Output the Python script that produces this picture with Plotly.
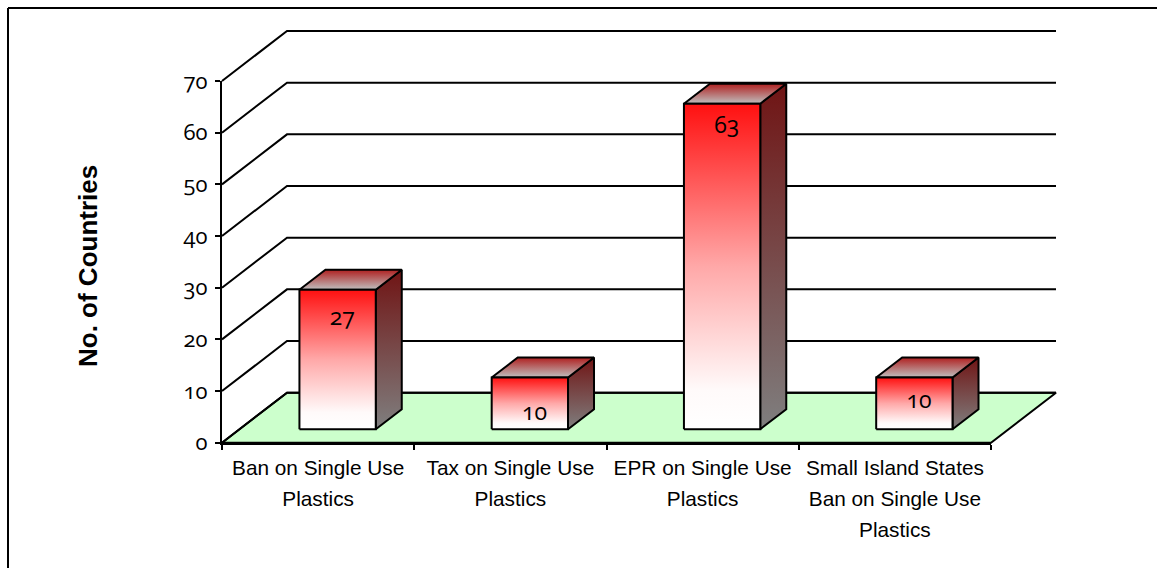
import plotly.graph_objects as go

# Survey counts per policy type
categories = [
    ["Ban on Single Use", "Plastics"],
    ["Tax on Single Use", "Plastics"],
    ["EPR on Single Use", "Plastics"],
    ["Small Island States", "Ban on Single Use", "Plastics"],
]
values = [27, 10, 63, 10]
value_ticks = [0, 10, 20, 30, 40, 50, 60, 70]

# Value labels sit this many axis units below the bar's top edge
label_drop = [5.7, 7.06, 4.5, 4.74]

WIDTH, HEIGHT = 1157, 568

# Pixel frame of the front plane of the chart
X0_PX, X1_PX = 222.0, 991.0
Y0_PX, Y70_PX = 442.7, 81.0
CAT_PX = (X1_PX - X0_PX) / len(values)
UNIT_PX = (Y0_PX - Y70_PX) / 70

# Oblique projection of the box: full depth expressed in axis units
DEPTH_X = 65.0 / CAT_PX
DEPTH_Y = 50.0 / UNIT_PX
BAR_WIDTH = 0.397
BAR_D0, BAR_D1 = 0.27, 0.67
BAR_SHIFT = 0.01
LABEL_SHIFT = 0.024

LINE = dict(color="#000000", width=2)


def project(cat, val, depth):
    return cat + depth * DEPTH_X, val + depth * DEPTH_Y


def path(*pts):
    xs, ys = zip(*[project(*p) for p in pts])
    return list(xs), list(ys)


fig = go.Figure()


def add_line(pts, width=2):
    xs, ys = path(*pts)
    fig.add_trace(go.Scatter(x=xs, y=ys, mode="lines", hoverinfo="skip",
                             showlegend=False,
                             line=dict(color="#000000", width=width)))


def add_face(pts, scale):
    xs, ys = path(*(pts + [pts[0]]))
    fig.add_trace(go.Scatter(
        x=xs, y=ys, mode="lines", fill="toself", hoverinfo="skip",
        showlegend=False, line=LINE,
        fillgradient=dict(type="vertical", start=min(ys), stop=max(ys),
                          colorscale=scale),
    ))


FRONT_SCALE = [[0, "#FFFFFF"], [0.12, "#FFFAFA"], [0.5, "#FFA8A8"], [1, "#FF1010"]]
SIDE_SCALE = [[0, "#7F7F7F"], [1, "#701414"]]
TOP_SCALE = [[0, "#BFBFBF"], [1, "#B02020"]]

n = len(values)

# Floor of the box
fx, fy = path((0, 0, 0), (n, 0, 0), (n, 0, 1), (0, 0, 1), (0, 0, 0))
fig.add_trace(go.Scatter(x=fx, y=fy, mode="lines", fill="toself",
                         fillcolor="#CCFFCC", line=LINE, hoverinfo="skip",
                         showlegend=False))

# Wall gridlines: diagonal on the side wall, horizontal on the back wall
for v in value_ticks:
    add_line([(0, v, 0), (0, v, 1), (n, v, 1)])

# Bars: side, top, then front face so the outlines overlap correctly
for i, v in enumerate(values):
    l = i + 0.5 - BAR_WIDTH / 2 + BAR_SHIFT
    r = l + BAR_WIDTH
    add_face([(r, 0, BAR_D0), (r, 0, BAR_D1), (r, v, BAR_D1), (r, v, BAR_D0)], SIDE_SCALE)
    add_face([(l, v, BAR_D0), (r, v, BAR_D0), (r, v, BAR_D1), (l, v, BAR_D1)], TOP_SCALE)
    add_face([(l, 0, BAR_D0), (r, 0, BAR_D0), (r, v, BAR_D0), (l, v, BAR_D0)], FRONT_SCALE)

# Value labels
lx, ly = [], []
for i, v in enumerate(values):
    px, py = project(i + 0.5 + BAR_SHIFT + LABEL_SHIFT, v - label_drop[i], BAR_D0)
    lx.append(px)
    ly.append(py)
fig.add_trace(go.Scatter(
    x=lx, y=ly, mode="text", text=[str(v) for v in values],
    textposition="middle center", hoverinfo="skip", showlegend=False,
    textfont=dict(family="Open Sans", size=23, color="#000000"),
))

# Front axes carry the ticks and labels
tick_labels = [
    "<br>".join(f'<span style="font-size:20.8px">{s}</span>' for s in lines)
    for lines in categories
]
fig.add_trace(go.Scatter(x=tick_labels, y=values, xaxis="x2", yaxis="y2",
                         mode="none", hoverinfo="skip", showlegend=False))

fig.update_layout(
    width=WIDTH, height=HEIGHT, autosize=False,
    margin=dict(l=0, r=0, t=0, b=0, autoexpand=False),
    paper_bgcolor="#FFFFFF", plot_bgcolor="rgba(0,0,0,0)",
    hovermode=False, showlegend=False,
    xaxis=dict(domain=[0, 1], visible=False, fixedrange=True,
               range=[-X0_PX / CAT_PX, (WIDTH - X0_PX) / CAT_PX]),
    yaxis=dict(domain=[0, 1], visible=False, fixedrange=True,
               range=[(Y0_PX - HEIGHT) / UNIT_PX, Y0_PX / UNIT_PX]),
    xaxis2=dict(
        domain=[X0_PX / WIDTH, X1_PX / WIDTH], anchor="y2", type="category",
        range=[-0.5, n - 0.5], categoryorder="array", categoryarray=tick_labels,
        tickson="boundaries", ticks="outside", ticklen=5, tickwidth=2,
        tickcolor="#000000", showline=True, linecolor="#000000", linewidth=2,
        showgrid=False, zeroline=False, fixedrange=True, tickangle=0,
        ticklabelstandoff=1,
        tickfont=dict(family="Liberation Sans", size=24, color="#000000"),
    ),
    yaxis2=dict(
        domain=[1 - Y0_PX / HEIGHT, 1 - Y70_PX / HEIGHT], anchor="x2",
        range=[0, 70], tickvals=value_ticks, ticks="outside", ticklen=5,
        tickwidth=2, tickcolor="#000000", showline=True, linecolor="#000000",
        linewidth=2, showgrid=False, zeroline=False, fixedrange=True,
        ticklabelstandoff=3,
        tickfont=dict(family="Open Sans", size=22, color="#000000"),
    ),
    annotations=[dict(
        text="<b>No. of Countries</b>", xref="paper", yref="paper",
        x=88 / WIDTH, y=1 - 266 / HEIGHT, textangle=-90, showarrow=False,
        xanchor="center", yanchor="middle",
        font=dict(family="Liberation Sans", size=26, color="#000000"),
    )],
    shapes=[
        dict(type="line", xref="paper", yref="paper", layer="above",
             x0=8 / WIDTH, x1=1, y0=1 - 8 / HEIGHT, y1=1 - 8 / HEIGHT, line=LINE),
        dict(type="line", xref="paper", yref="paper", layer="above",
             x0=8 / WIDTH, x1=8 / WIDTH, y0=0, y1=1 - 8 / HEIGHT, line=LINE),
    ],
)

# Old-style figures for the numeric labels
numeral_style = """
var s = document.createElement('style');
s.textContent = '.y2tick text, .textpoint text {font-variant-numeric: oldstyle-nums; font-feature-settings: "onum" 1;}';
document.head.appendChild(s);
"""
fig.write_html("out.html", post_script=numeral_style, config={"displayModeBar": False})
